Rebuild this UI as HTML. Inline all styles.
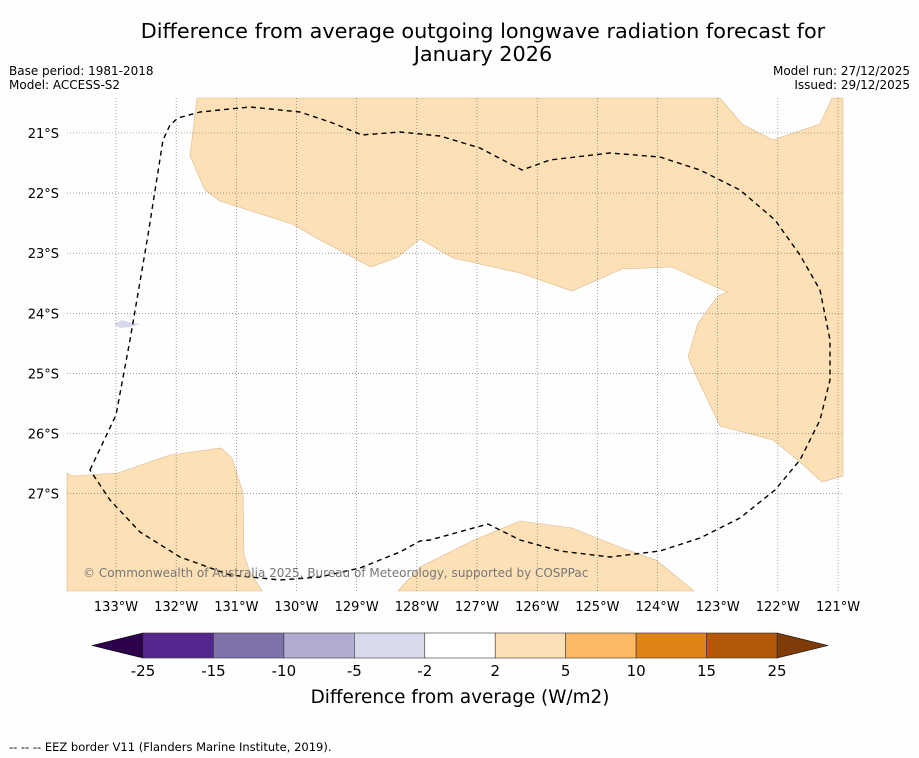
<!DOCTYPE html>
<html><head><meta charset="utf-8"><style>
body{margin:0;background:#fff;font-family:"Liberation Sans","DejaVu Sans",sans-serif}
svg{display:block}
text{font-family:"DejaVu Sans","Liberation Sans",sans-serif}
</style></head><body>
<svg id="c" width="919" height="758" xmlns="http://www.w3.org/2000/svg">
<rect width="919" height="758" fill="#fefefe"/>
<text x="483" y="38" text-anchor="middle" font-size="20.8">Difference from average outgoing longwave radiation forecast for</text>
<text x="483" y="61" text-anchor="middle" font-size="20.8">January 2026</text>
<text x="9" y="75" font-size="12">Base period: 1981-2018</text>
<text x="9" y="89" font-size="12">Model: ACCESS-S2</text>
<text x="910" y="75" font-size="12" text-anchor="end">Model run: 27/12/2025</text>
<text x="910" y="89" font-size="12" text-anchor="end">Issued: 29/12/2025</text>
<g id="map">
<polygon fill="#fde0b6" stroke="#d9b88e" stroke-width="0.6" points="197,98 720,98 742,124 773,140 820,124 832,98 843,98 843,476 822,482 800,462 773,440 720,426 698,380 688,357 698,323 718,296 727,292 672,267 622,269 572,291 520,273 453,258 420,239 398,257 371,267 320,240 292,224 220,201 205,190 190,156"/>
<polygon fill="#fde0b6" stroke="#d9b88e" stroke-width="0.6" points="67,473 72,476 118,473 170,455 221,448 232,458 243,493 244,555 250,572 262,591 67,591"/>
<polygon fill="#fde0b6" stroke="#d9b88e" stroke-width="0.6" points="398,591 420,567 474,540 520,521 572,528 622,548 656,560 694,591"/>
<polygon fill="#d8d9ea" points="114,324 122,320 132,323 141,324 130,327 120,328"/>
</g>
<g id="grid"></g>
<path fill="none" stroke="#000" stroke-width="1.4" stroke-dasharray="5,4" stroke-linejoin="round" d="M90,470 L116,415 L130,340 L148,235 L163,140 L170,125 L178,118 L200,112 L250,107 L300,112 L330,122 L362,135 L400,132 L440,136 L480,148 L522,170 L550,160 L610,153 L660,157 L700,170 L740,190 L775,220 L800,255 L820,290 L830,340 L830,380 L820,420 L800,460 L775,490 L740,518 L700,538 L660,551 L610,557 L560,551 L520,540 L488,524 L430,540 L420,541 L400,552 L360,568 L320,577 L280,580 L230,575 L180,557 L140,532 L110,500 Z"/>
<text x="83" y="577" font-size="12" fill="#777">© Commonwealth of Australia 2025, Bureau of Meteorology, supported by COSPPac</text>
<g id="cbar"></g>
<text x="460" y="703" text-anchor="middle" font-size="18.4">Difference from average (W/m2)</text>
<text x="9" y="751" font-size="11.5">--  --  -- EEZ border V11 (Flanders Marine Institute, 2019).</text>
</svg>
<script>
const lonTicks=[-133,-132,-131,-130,-129,-128,-127,-126,-125,-124,-123,-122,-121];
const latTicks=[-21,-22,-23,-24,-25,-26,-27];
const cbarLevels=["-25","-15","-10","-5","-2","2","5","10","15","25"];
const cbarColors=["#54278f","#8073ac","#b2abd2","#d8daeb","#ffffff","#fee0b6","#fdb863","#e08214","#b35806"];
const NS="http://www.w3.org/2000/svg";
const px=lon=>116+(lon+133)*60.17;
const py=lat=>133+(-21-lat)*60.1;
function mk(t,a,p){const e=document.createElementNS(NS,t);for(const k in a)e.setAttribute(k,a[k]);p.appendChild(e);return e;}
const g=document.getElementById('grid');
lonTicks.forEach(l=>{
 const x=px(l);
 const ln=mk('line',{x1:x,x2:x,y1:98,y2:591,stroke:'#666','stroke-width':0.6,'stroke-dasharray':'1,2'},g);
 
 
 const t=mk('text',{x:x,y:611,'text-anchor':'middle','font-size':13},g);
 t.textContent=Math.abs(l)+'°W';
 
 
});
latTicks.forEach(l=>{
 const y=py(l);
 const ln=mk('line',{x1:67,x2:843,y1:y,y2:y,stroke:'#666','stroke-width':0.6,'stroke-dasharray':'1,2'},g);
 
 
 const t=mk('text',{x:59,y:y+5,'text-anchor':'end','font-size':13},g);
 t.textContent=Math.abs(l)+'°S';
 
 
});
const cb=document.getElementById('cbar');
const x0=143,x1=777,w=(x1-x0)/cbarColors.length,y0=633,h=25;
const lt=mk('polygon',{points:`92,${y0+h/2} ${x0},${y0} ${x0},${y0+h}`,fill:'#2d004b',stroke:'#000','stroke-width':0.6},cb);


const rt=mk('polygon',{points:`828,${y0+h/2} ${x1},${y0} ${x1},${y0+h}`,fill:'#7f3b08',stroke:'#000','stroke-width':0.6},cb);


cbarColors.forEach((c,i)=>{
 const r=mk('rect',{x:x0+i*w,y:y0,width:w,height:h,fill:c,stroke:'#333','stroke-width':0.6},cb);
 
 
});
cbarLevels.forEach((s,i)=>{
 const t=mk('text',{x:x0+i*w,y:676,'text-anchor':'middle','font-size':15},cb);
 t.textContent=s;
 
 
});
</script>
</body></html>
